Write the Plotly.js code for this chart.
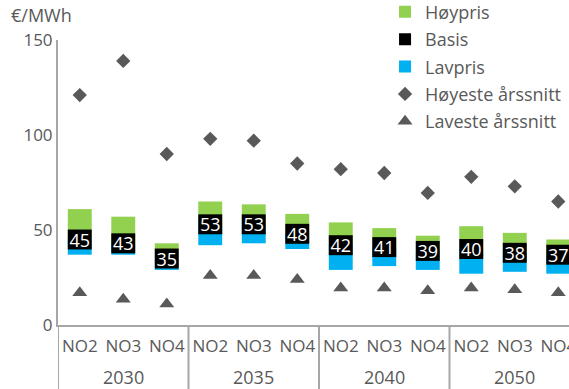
<!DOCTYPE html>
<html><head><meta charset="utf-8">
<script src="https://cdn.plot.ly/plotly-3.0.1.min.js"></script>
<style>body{margin:0}#c{width:569px;height:389px}</style>
</head><body><div id="c"></div>
<script>
const years   = ['2030','2030','2030','2035','2035','2035','2040','2040','2040','2050','2050','2050'];
const regions = ['NO2','NO3','NO4','NO2','NO3','NO4','NO2','NO3','NO4','NO2','NO3','NO4'];
const yearGroups = ['2030','2035','2040','2050'];
const lavpris = [37, 37, 29, 42, 43, 40, 29, 31, 29, 27, 28, 27];
const basis   = [45, 43, 35, 53, 53, 48, 42, 41, 39, 40, 38, 37];
const hoypris = [61, 57, 43, 65, 63.5, 58.5, 54, 51, 47, 52, 48.5, 45];
const hoyeste = [121, 139, 90, 98, 97, 85, 82, 80, 69.5, 78, 73, 65];
const laveste = [17, 13.5, 11, 26, 26, 24, 19.5, 19.5, 18, 19.5, 18.5, 17];

const cats = years.map((y,i)=>y+' '+regions[i]);
const boxHalf = 5.25;
const font = 'Open Sans, Noto Sans, sans-serif';
const grey = '#595959';
const lineCol = '#A6A6A6';

const blue = {type:'bar', name:'Lavpris', legendgroup:'c', legendrank:3, x:cats, base:lavpris,
   y:basis.map((v,i)=>v-lavpris[i]), marker:{color:'#00B0F0'}, width:0.55};
const green = {type:'bar', name:'Høypris', legendgroup:'a', legendrank:1, x:cats, base:basis,
   y:hoypris.map((v,i)=>v-basis[i]), marker:{color:'#92D050'}, width:0.55};
const black = {type:'bar', name:'Basis', legendgroup:'b', legendrank:2, x:cats,
   base:basis.map(v=>v-boxHalf), y:basis.map(()=>2*boxHalf),
   marker:{color:'#000000'}, width:0.55, text:basis.map(String), textposition:'inside',
   insidetextanchor:'middle', textangle:0, constraintext:'none',
   textfont:{color:'#ffffff', size:18, family:font}};
const hi = {type:'scatter', mode:'markers', name:'Høyeste årssnitt', legendgroup:'d', legendrank:4,
   x:cats, y:hoyeste, marker:{symbol:'diamond', color:grey, size:11}};
const lo = {type:'scatter', mode:'markers', name:'Laveste årssnitt', legendgroup:'e', legendrank:5,
   x:cats, y:laveste, marker:{symbol:'triangle-up', color:grey, size:13}};
const data = [blue, green, black, hi, lo];

const shapes = [];
const annotations = [{text:'€/MWh', xref:'paper', yref:'paper', x:-0.095, y:1.088, xanchor:'left',
  yanchor:'middle', showarrow:false, font:{family:font, size:18, color:grey}}];
[-0.5, 2.5, 5.5, 8.5, 11.5].forEach(p=>{
  shapes.push({type:'line', xref:'x', yref:'paper', x0:p, x1:p, y0:0, y1:-0.23,
               line:{color:lineCol, width:2}});
});
yearGroups.forEach((g,k)=>{
  annotations.push({text:g, xref:'x', yref:'paper', x:3*k+1, y:-0.1825, xanchor:'center',
    yanchor:'middle', showarrow:false, font:{family:font, size:18, color:grey}});
});

const layout = {
  width:569, height:389,
  margin:{l:58, r:0, t:40, b:64, autoexpand:false},
  paper_bgcolor:'#ffffff', plot_bgcolor:'#ffffff',
  barmode:'overlay',
  showlegend:true,
  legend:{x:0.64, xanchor:'left', y:1.163, yanchor:'top', traceorder:'grouped',
          font:{family:font, size:18, color:grey}, bgcolor:'rgba(0,0,0,0)',
          tracegroupgap:1, itemwidth:30},
  font:{family:font, color:grey},
  xaxis:{type:'category', categoryorder:'array', categoryarray:cats,
         range:[-0.5, 11.247], showline:true, linecolor:lineCol, linewidth:2,
         tickvals:cats, ticktext:regions, ticks:'', showgrid:false,
         ticklabelstandoff:5, automargin:false,
         tickfont:{family:font, size:17, color:grey}},
  yaxis:{range:[0,150], tickvals:[0,50,100,150], showgrid:false, zeroline:false,
         showline:true, linecolor:lineCol, linewidth:2, ticks:'', automargin:false,
         tickfont:{family:font, size:17, color:grey}},
  shapes:shapes,
  annotations:annotations
};
Plotly.newPlot('c', data, layout, {displayModeBar:false, staticPlot:true});
</script></body></html>
